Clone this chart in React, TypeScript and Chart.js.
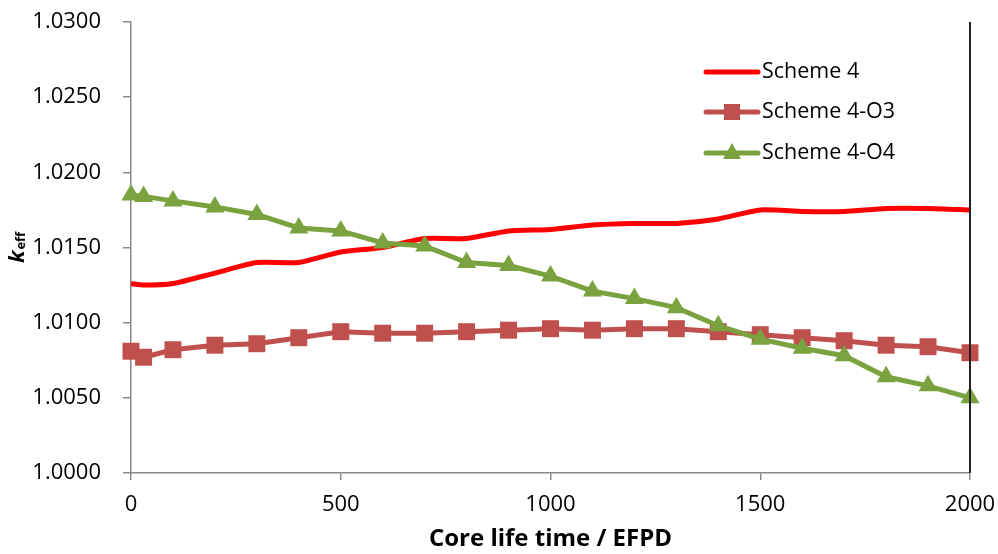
import React, { useEffect, useRef } from "react";
import { Chart, registerables } from "chart.js";

Chart.register(...registerables);

const xValues = [0, 30, 100, 200, 300, 400, 500, 600, 700, 800, 900, 1000, 1100, 1200, 1300, 1400, 1500, 1600, 1700, 1800, 1900, 2000];
const scheme4 = [1.0126, 1.0125, 1.0126, 1.0133, 1.0140, 1.0140, 1.0147, 1.0150, 1.0156, 1.0156, 1.0161, 1.0162, 1.0165, 1.0166, 1.0166, 1.0169, 1.0175, 1.0174, 1.0174, 1.0176, 1.0176, 1.0175];
const scheme4O3 = [1.0081, 1.0077, 1.0082, 1.0085, 1.0086, 1.0090, 1.0094, 1.0093, 1.0093, 1.0094, 1.0095, 1.0096, 1.0095, 1.0096, 1.0096, 1.0094, 1.0092, 1.0090, 1.0088, 1.0085, 1.0084, 1.0080];
const scheme4O4 = [1.0185, 1.0184, 1.0181, 1.0177, 1.0172, 1.0163, 1.0161, 1.0153, 1.0151, 1.0140, 1.0138, 1.0131, 1.0121, 1.0116, 1.0110, 1.0098, 1.0089, 1.0083, 1.0078, 1.0064, 1.0058, 1.0050];
const seriesNames = ["Scheme 4", "Scheme 4-O3", "Scheme 4-O4"];
const xTitle = "Core life time / EFPD";

const RED = "#FF0000";
const BRICK = "#C0504D";
const GREEN = "#7AA23F";
const AXIS = "#8A8A8A";
const FONT = "'Open Sans', 'Liberation Sans', sans-serif";

const toPts = (ys: number[]) => ys.map((y, i) => ({ x: xValues[i], y }));

const extrasPlugin = {
  id: "extras",
  afterDraw(chart: any) {
    const { ctx, chartArea } = chart;
    const { right, top, bottom } = chartArea;
    ctx.save();
    // right border
    ctx.strokeStyle = "#222";
    ctx.lineWidth = 2;
    ctx.beginPath();
    ctx.moveTo(right, top);
    ctx.lineTo(right, bottom);
    ctx.stroke();

    // y title k_eff
    const cy = (top + bottom) / 2;
    ctx.translate(24, cy);
    ctx.rotate(-Math.PI / 2);
    ctx.fillStyle = "#000";
    ctx.textBaseline = "alphabetic";
    ctx.font = `italic bold 22px ${FONT}`;
    const kw = ctx.measureText("k").width;
    ctx.font = `bold 13px ${FONT}`;
    const ew = ctx.measureText("eff").width;
    const total = kw + ew + 1;
    ctx.font = `italic bold 22px ${FONT}`;
    ctx.textAlign = "left";
    ctx.fillText("k", -total / 2, 0);
    ctx.font = `bold 13px ${FONT}`;
    ctx.fillText("eff", -total / 2 + kw + 1, 1);
    ctx.restore();

    // legend
    ctx.save();
    const lx1 = right - 264;
    const lx2 = right - 212;
    const rows = [top + 50, top + 90, top + 131];
    const colors = [RED, BRICK, GREEN];
    rows.forEach((ry, i) => {
      ctx.strokeStyle = colors[i];
      ctx.lineWidth = 5;
      ctx.lineCap = "round";
      ctx.beginPath();
      ctx.moveTo(lx1, ry);
      ctx.lineTo(lx2, ry);
      ctx.stroke();
      ctx.fillStyle = colors[i];
      const mx = (lx1 + lx2) / 2;
      if (i === 1) {
        ctx.fillRect(mx - 8, ry - 8, 16, 16);
      } else if (i === 2) {
        ctx.beginPath();
        ctx.moveTo(mx, ry - 10);
        ctx.lineTo(mx + 9, ry + 6);
        ctx.lineTo(mx - 9, ry + 6);
        ctx.closePath();
        ctx.fill();
      }
      ctx.fillStyle = "#000";
      ctx.font = `21.5px ${FONT}`;
      ctx.textAlign = "left";
      ctx.textBaseline = "middle";
      ctx.fillText(seriesNames[i], lx2 + 4, ry);
    });
    ctx.restore();
  },
};

export default function App() {
  const ref = useRef<HTMLCanvasElement | null>(null);
  useEffect(() => {
    document.body.style.margin = "0";
    const canvas = ref.current;
    if (!canvas) return;
    const chart = new Chart(canvas, {
      type: "line",
      data: {
        datasets: [
          {
            label: seriesNames[0],
            data: toPts(scheme4),
            borderColor: RED,
            backgroundColor: RED,
            borderWidth: 5,
            pointRadius: 0,
            tension: 0.2,
            order: 2,
            clip: false,
          },
          {
            label: seriesNames[1],
            data: toPts(scheme4O3),
            borderColor: BRICK,
            backgroundColor: BRICK,
            borderWidth: 5,
            pointStyle: "rect",
            pointRadius: 12,
            pointBorderWidth: 0,
            pointBackgroundColor: BRICK,
            tension: 0,
            order: 1,
            clip: false,
          },
          {
            label: seriesNames[2],
            data: toPts(scheme4O4),
            borderColor: GREEN,
            backgroundColor: GREEN,
            borderWidth: 5,
            pointStyle: "triangle",
            pointRadius: 11,
            pointBorderWidth: 0,
            pointBackgroundColor: GREEN,
            tension: 0,
            order: 0,
            clip: false,
          },
        ] as any,
      },
      options: {
        responsive: false,
        animation: false,
        layout: { padding: { top: 22, right: 28, left: 0, bottom: 0 } },
        plugins: { legend: { display: false }, tooltip: { enabled: false } },
        scales: {
          x: {
            type: "linear",
            min: 0,
            max: 2000,
            afterFit: (s: any) => {
              s.height = 81;
              s.paddingLeft = 0;
              s.paddingRight = 0;
            },
            ticks: {
              stepSize: 500,
              autoSkip: false,
              maxRotation: 0,
              padding: 12,
              color: "#000",
              font: { family: FONT, size: 22 },
              callback: (v: any) => String(v),
            },
            grid: { drawOnChartArea: false, drawTicks: true, tickLength: 7, color: AXIS, lineWidth: 1.5 },
            border: { color: AXIS, width: 1.5 },
            title: {
              display: true,
              text: xTitle,
              color: "#000",
              font: { family: FONT, size: 24, weight: "bold" },
              padding: { top: 0, bottom: 0 },
            },
          },
          y: {
            min: 1.0,
            max: 1.03,
            afterFit: (s: any) => {
              s.width = 131;
              s.paddingTop = 0;
              s.paddingBottom = 0;
            },
            ticks: {
              stepSize: 0.005,
              autoSkip: false,
              padding: 22,
              color: "#000",
              font: { family: FONT, size: 22 },
              callback: (v: any) => Number(v).toFixed(4),
            },
            grid: { drawOnChartArea: false, drawTicks: true, tickLength: 8, color: AXIS, lineWidth: 1.5 },
            border: { color: AXIS, width: 1.5 },
          },
        },
      } as any,
      plugins: [extrasPlugin],
    });
    return () => chart.destroy();
  }, []);
  return (
    <div style={{ width: 998, height: 554, background: "#fff" }}>
      <canvas ref={ref} width={998} height={554} style={{ width: 998, height: 554, display: "block" }} />
    </div>
  );
}
